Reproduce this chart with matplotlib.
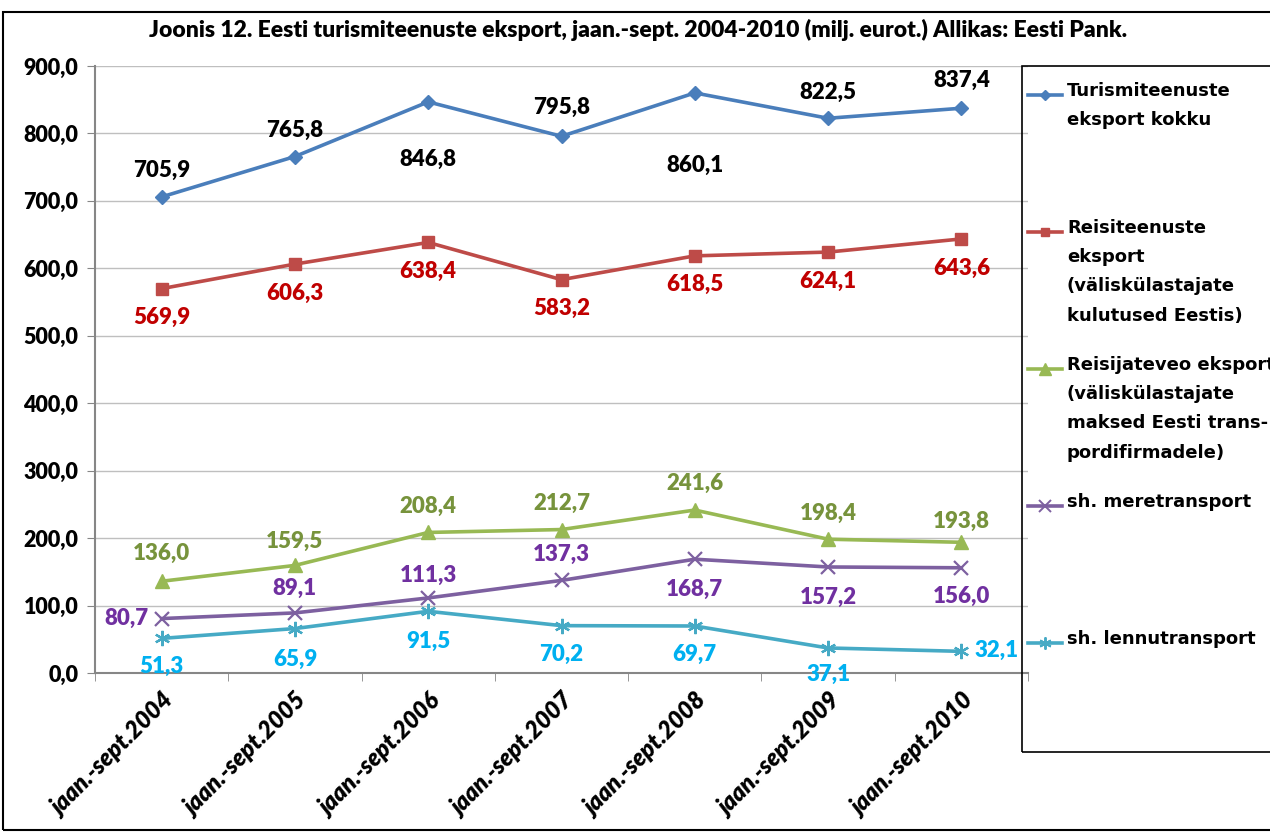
import matplotlib
matplotlib.use('Agg')
import matplotlib.pyplot as plt
from matplotlib.lines import Line2D
from matplotlib.patches import Rectangle

periods = ['jaan.-sept.2004', 'jaan.-sept.2005', 'jaan.-sept.2006', 'jaan.-sept.2007',
           'jaan.-sept.2008', 'jaan.-sept.2009', 'jaan.-sept.2010']
turism_kokku = [705.9, 765.8, 846.8, 795.8, 860.1, 822.5, 837.4]
reisiteenused = [569.9, 606.3, 638.4, 583.2, 618.5, 624.1, 643.6]
reisijatevedu = [136.0, 159.5, 208.4, 212.7, 241.6, 198.4, 193.8]
meretransport = [80.7, 89.1, 111.3, 137.3, 168.7, 157.2, 156.0]
lennutransport = [51.3, 65.9, 91.5, 70.2, 69.7, 37.1, 32.1]

legend_labels = ['Turismiteenuste\neksport kokku',
                 'Reisiteenuste\neksport\n(väliskülastajate\nkulutused Eestis)',
                 'Reisijateveo eksport\n(väliskülastajate\nmaksed Eesti trans-\npordifirmadele)',
                 'sh. meretransport',
                 'sh. lennutransport']

# stiilid: (joone varv, sildi varv, marker, markeri suurus)
styles = [('#4A7EBB', 'black', 'D', 7),
          ('#BE4B48', '#C00000', 's', 8),
          ('#98B954', '#77933C', '^', 10),
          ('#7D60A0', '#7030A0', 'x', 10),
          ('#46AAC5', '#00B0F0', (6, 2, 0), 11)]

# siltide nihked pikslites (dx, dy), ekraani y ules positiivne
offsets = [
    [(0, 27), (0, 26), (0, -58), (0, 29), (0, -72), (0, 26), (0, 28)],
    [(0, -29)] * 7,
    [(0, 28), (0, 24), (0, 26), (0, 26), (0, 27), (0, 26), (0, 21)],
    [(-13, 0), (0, 25), (0, 23), (0, 26), (0, -30), (0, -30), (0, -29)],
    [(0, -28), (0, -31), (0, -30), (0, -29), (0, -28), (0, -26), (13, 1)],
]

series = [turism_kokku, reisiteenused, reisijatevedu, meretransport, lennutransport]

plt.rcParams['font.family'] = ['Lato', 'DejaVu Sans']

fig = plt.figure(figsize=(12.7, 8.32), dpi=100)
ax = fig.add_axes([95 / 1270, 1 - 673 / 832, 933 / 1270, 607 / 832])

x = list(range(len(periods)))
for vals, (lc, tc, mk, ms), offs in zip(series, styles, offsets):
    thin = mk == 'x' or isinstance(mk, tuple)
    ax.plot(x, vals, color=lc, lw=2.6, marker=mk, markersize=ms,
            markeredgewidth=1.6 if thin else 1, zorder=3)
    for xi, v, (dx, dy) in zip(x, vals, offs):
        ha = 'center'
        if dx < 0:
            ha = 'right'
        elif dx > 0:
            ha = 'left'
        ax.annotate(f'{v:.1f}'.replace('.', ','), (xi, v), xytext=(dx, dy),
                    textcoords='offset pixels', ha=ha, va='center',
                    color=tc, fontsize=16, fontweight='heavy', zorder=4)

ax.set_xlim(-0.5, len(periods) - 0.5)
ax.set_ylim(0, 900)
ax.set_yticks(range(0, 901, 100))
ax.set_yticklabels([f'{v:.1f}'.replace('.', ',') for v in range(0, 901, 100)],
                   fontsize=15.5, fontweight='heavy')
ax.set_xticks(x)
ax.set_xticklabels(periods, rotation=45, ha='right', rotation_mode='anchor',
                   fontsize=17, fontweight='heavy', style='italic')
ax.tick_params(axis='x', length=0, pad=12)
ax.set_xticks([i + 0.5 for i in range(-1, len(periods))], minor=True)
ax.tick_params(axis='x', which='minor', length=6, color='#868686')
ax.tick_params(axis='y', length=6, color='#868686', pad=6)
ax.grid(axis='y', color='#BFBFBF', lw=1)
ax.set_axisbelow(True)
for s in ['top', 'right']:
    ax.spines[s].set_visible(False)
for s in ['left', 'bottom']:
    ax.spines[s].set_color('#868686')
    ax.spines[s].set_linewidth(1.5)

fig.text(638 / 1270, 1 - 30 / 832,
         'Joonis 12. Eesti turismiteenuste eksport, jaan.-sept. 2004-2010 (milj. eurot.) Allikas: Eesti Pank.',
         ha='center', va='center', fontsize=16.5, fontweight='heavy')

# legend kast
fig.patches.append(Rectangle((1022 / 1270, 1 - 752 / 832), 300 / 1270, 686 / 832,
                             transform=fig.transFigure, fill=False, ec='black', lw=1.2))
for i, ((lc, tc, mk, ms), lab) in enumerate(zip(styles, legend_labels)):
    yy = 1 - (95 + 137 * i) / 832
    thin = mk == 'x' or isinstance(mk, tuple)
    fig.add_artist(Line2D([1028 / 1270, 1062 / 1270], [yy, yy], color=lc, lw=2.6,
                          transform=fig.transFigure))
    fig.add_artist(Line2D([1045 / 1270], [yy], color=lc, marker=mk, markersize=ms * 0.8,
                          markeredgewidth=1.4 if thin else 1, lw=0,
                          transform=fig.transFigure))
    fig.text(1067 / 1270, yy + 13 / 832, lab, ha='left', va='top', fontsize=13,
             fontweight='bold', family='DejaVu Sans', linespacing=1.8)

# valimine raam
fig.patches.append(Rectangle((3 / 1270, 2 / 832), 1300 / 1270, 818 / 832,
                             transform=fig.transFigure, fill=False, ec='black', lw=1.5))

fig.savefig('out.png', dpi=100)
